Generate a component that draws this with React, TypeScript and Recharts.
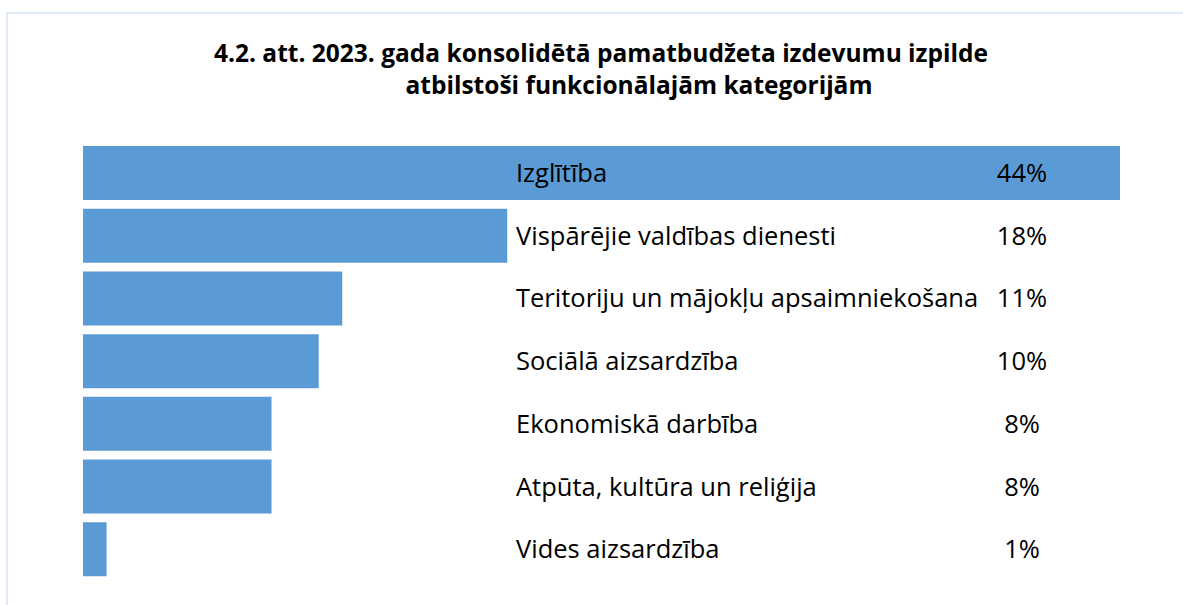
import { Bar, BarChart, LabelList, XAxis, YAxis } from 'recharts';

const categories = [
  'Izglītība',
  'Vispārējie valdības dienesti',
  'Teritoriju un mājokļu apsaimniekošana',
  'Sociālā aizsardzība',
  'Ekonomiskā darbība',
  'Atpūta, kultūra un reliģija',
  'Vides aizsardzība',
];
const shares = [44, 18, 11, 10, 8, 8, 1];

const data = categories.map((name, i) => ({ name, value: shares[i] }));

const FONT = '"Open Sans", "Noto Sans", sans-serif';

function NameLabel(props: any) {
  const { y, height, value } = props;
  return (
    <text x={516} y={y + height / 2 + 9} fontFamily={FONT} fontSize={25.5} fill="#000">
      {value}
    </text>
  );
}

function PctLabel(props: any) {
  const { y, height, value } = props;
  return (
    <text
      x={1022}
      y={y + height / 2 + 9}
      textAnchor="middle"
      fontFamily={FONT}
      fontSize={25.5}
      fill="#000"
    >
      {value}%
    </text>
  );
}

export default function App() {
  return (
    <div
      style={{
        position: 'absolute',
        left: 0,
        top: 0,
        width: 1183,
        height: 605,
        background: '#fff',
        overflow: 'hidden',
      }}
    >
      <div
        style={{
          position: 'absolute',
          left: 6,
          top: 12,
          width: 1200,
          height: 620,
          border: '2px solid #dde9f6',
        }}
      />
      <BarChart
        width={1183}
        height={605}
        layout="vertical"
        data={data}
        margin={{ top: 142, right: 63, bottom: 24, left: 83 }}
        style={{ position: 'absolute', left: 0, top: 0 }}
      >
        <text x={601} y={62} textAnchor="middle" fontFamily={FONT} fontWeight={700} fontSize={24.5}>
          4.2. att. 2023. gada konsolidētā pamatbudžeta izdevumu izpilde
        </text>
        <text x={639} y={94} textAnchor="middle" fontFamily={FONT} fontWeight={700} fontSize={24.5}>
          atbilstoši funkcionālajām kategorijām
        </text>
        <XAxis type="number" domain={[0, 44]} hide />
        <YAxis type="category" dataKey="name" hide />
        <Bar dataKey="value" fill="#5b9bd5" barSize={54} isAnimationActive={false}>
          <LabelList dataKey="name" content={NameLabel} />
          <LabelList dataKey="value" content={PctLabel} />
        </Bar>
      </BarChart>
    </div>
  );
}
